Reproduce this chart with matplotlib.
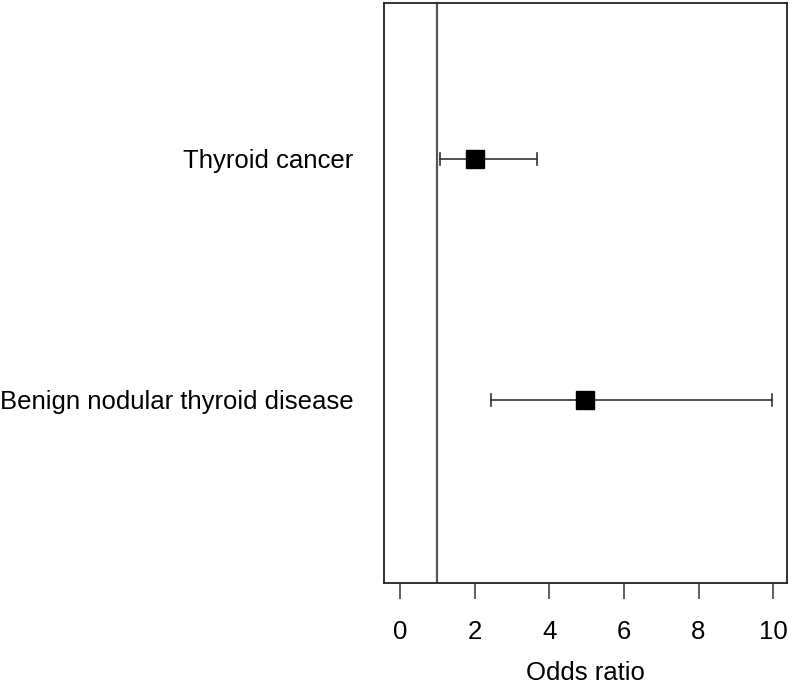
import matplotlib
matplotlib.use("Agg")
import matplotlib.pyplot as plt

outcomes = ["Benign nodular thyroid disease", "Thyroid cancer"]
positions = [1, 2]
odds_ratio = [4.96, 2.0]
ci_low = [2.44, 1.08]
ci_high = [9.97, 3.68]
x_ticks = [0, 2, 4, 6, 8, 10]

plt.rcParams["font.family"] = ["Liberation Sans", "DejaVu Sans"]

fig = plt.figure(figsize=(7.93, 6.9), dpi=100)
ax = fig.add_axes([0.4842, 0.155, 0.5082, 0.8407])

ax.axvline(1, color="#555555", lw=1.6, zorder=1)

for y, est, lo, hi in zip(positions, odds_ratio, ci_low, ci_high):
    ax.plot([lo, hi], [y, y], color="#333333", lw=1.2, zorder=2)
    ax.plot([lo, lo], [y - 0.025, y + 0.025], color="#333333", lw=1.2, zorder=2)
    ax.plot([hi, hi], [y - 0.025, y + 0.025], color="#333333", lw=1.2, zorder=2)
    ax.plot(est, y, marker="s", color="black", markersize=13, zorder=3)

ax.set_xlim(-0.43, 10.37)
ax.set_ylim(0.24, 2.647)

ax.set_yticks(positions)
ax.set_yticklabels(outcomes, fontsize=18.5)
ax.tick_params(axis="y", length=0, pad=22)

ax.set_xticks(x_ticks)
ax.set_xticklabels([str(t) for t in x_ticks], fontsize=18.5)
ax.tick_params(axis="x", length=11.5, width=1.2, color="#444444", pad=15)
ax.set_xlabel("Odds ratio", fontsize=18.5, labelpad=12)

for s in ax.spines.values():
    s.set_linewidth(1.3)
    s.set_color("#222222")

fig.savefig("out.png", dpi=100)
